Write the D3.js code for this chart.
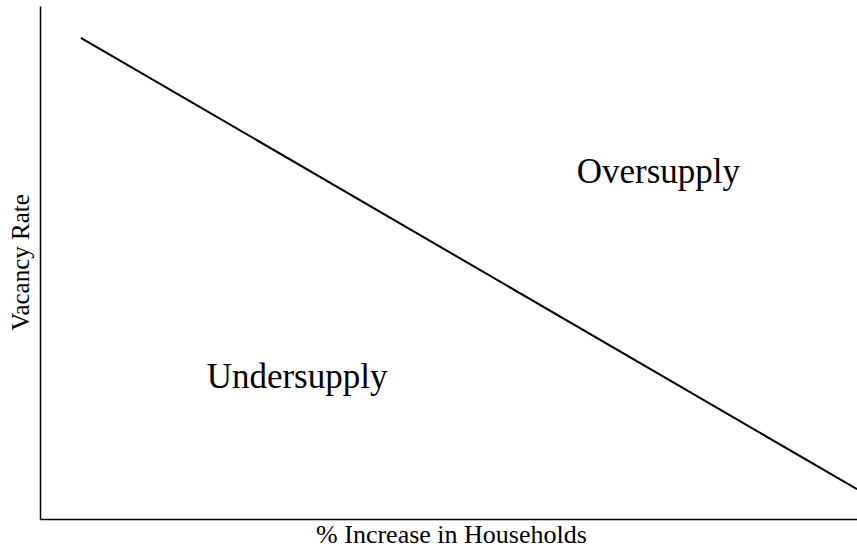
<!DOCTYPE html>
<html>
<head>
<meta charset="utf-8">
<script src="https://cdn.jsdelivr.net/npm/d3@7"></script>
<style>
  body { margin: 0; background: #fff; }
  svg { display: block; font-family: 'Liberation Serif', 'Times New Roman', serif; }
</style>
</head>
<body>
<div id="chart"></div>
<script>
// line endpoints (% increase in households vs vacancy rate, arbitrary units)
const increase = [5, 100];
const vacancy = [93.8, 5.8];

const regionNames = ['Oversupply', 'Undersupply'];
const regionX = [65.7, 20.4];
const regionY = [65.5, 25.5];

const width = 857,
  height = 548,
  padLeft = 40,
  padTop = 6,
  axisY = 519;

const xScale = d3.scaleLinear().domain([0, 100]).range([padLeft, width]);
const yScale = d3.scaleLinear().domain([0, 100]).range([axisY, padTop]);

const svg = d3
  .select('#chart')
  .append('svg')
  .attr('width', width)
  .attr('height', height);

// axes as plain lines, no ticks
svg
  .append('g')
  .attr('transform', `translate(0, ${axisY})`)
  .call(d3.axisBottom(xScale).tickValues([]).tickSizeOuter(0))
  .select('.domain')
  .attr('stroke', '#000')
  .attr('stroke-width', 1.5);

svg
  .append('g')
  .attr('transform', `translate(${padLeft}, 0)`)
  .call(d3.axisLeft(yScale).tickValues([]).tickSizeOuter(0))
  .select('.domain')
  .attr('stroke', '#000')
  .attr('stroke-width', 1.5);

const pts = increase.map((d, i) => [d, vacancy[i]]);

svg
  .append('path')
  .datum(pts)
  .attr('fill', 'none')
  .attr('stroke', '#000')
  .attr('stroke-width', 2)
  .attr('d', d3.line().x((d) => xScale(d[0])).y((d) => yScale(d[1])));

svg
  .selectAll('text.region')
  .data(regionNames)
  .enter()
  .append('text')
  .attr('class', 'region')
  .attr('x', (d, i) => xScale(regionX[i]))
  .attr('y', (d, i) => yScale(regionY[i]))
  .attr('font-size', 35)
  .attr('fill', '#000')
  .text((d) => d);

svg
  .append('text')
  .attr('x', (padLeft + width) / 2 + 3)
  .attr('y', 543)
  .attr('text-anchor', 'middle')
  .attr('font-size', 26)
  .text('% Increase in Households');

svg
  .append('text')
  .attr('transform', `translate(29, ${(padTop + axisY) / 2}) rotate(-90)`)
  .attr('text-anchor', 'middle')
  .attr('font-size', 25)
  .text('Vacancy Rate');
</script>
</body>
</html>
